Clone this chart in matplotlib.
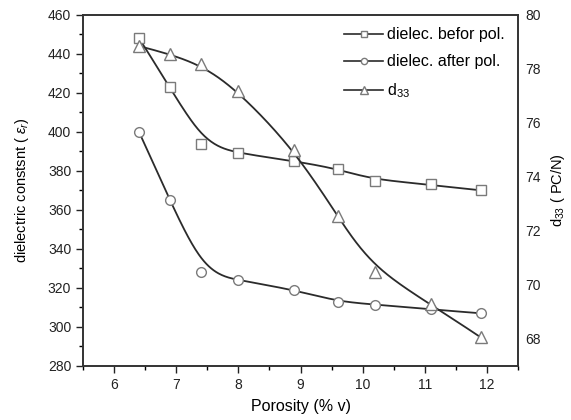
import numpy as np
import matplotlib
matplotlib.use("Agg")
import matplotlib.pyplot as plt
from matplotlib.lines import Line2D
from matplotlib.ticker import MultipleLocator

plt.rcParams["font.family"] = ["Liberation Sans", "DejaVu Sans"]
plt.rcParams["mathtext.fontset"] = "custom"
plt.rcParams["mathtext.rm"] = "Liberation Sans"
plt.rcParams["mathtext.it"] = "Liberation Sans:italic"

porosity = [6.4, 6.9, 7.4, 8.0, 8.9, 9.6, 10.2, 11.1, 11.9]
eps_before = [448, 423, 394, 389, 385, 381, 375, 373, 370]
eps_after = [400, 365, 328, 324, 319, 313, 311.5, 309, 307]
d33 = [78.84, 78.54, 78.16, 77.17, 75.0, 72.54, 70.47, 69.29, 68.06]


def bspline(xs, ys, npts=300, k=3):
    # clamped cubic B-spline using the data points as control points
    P = np.column_stack([xs, ys]).astype(float)
    n = len(P)
    inner = np.arange(1, n - k)
    knots = np.concatenate([np.zeros(k + 1), inner, np.full(k + 1, n - k)]).astype(float)
    t = np.linspace(0, n - k, npts)
    t[-1] -= 1e-9
    # Cox-de Boor
    N = np.zeros((npts, len(knots) - 1))
    for i in range(len(knots) - 1):
        N[:, i] = (knots[i] <= t) & (t < knots[i + 1])
    for d in range(1, k + 1):
        Nn = np.zeros((npts, len(knots) - 1 - d))
        for i in range(len(knots) - 1 - d):
            a = knots[i + d] - knots[i]
            b = knots[i + d + 1] - knots[i + 1]
            left = (t - knots[i]) / a * N[:, i] if a > 0 else 0
            right = (knots[i + d + 1] - t) / b * N[:, i + 1] if b > 0 else 0
            Nn[:, i] = left + right
        N = Nn
    C = N @ P
    return C[:, 0], C[:, 1]


line_c = "#2b2b2b"
mark_c = "#7a7a7a"

fig = plt.figure(figsize=(5.71, 4.2), dpi=100)
ax = fig.add_axes([0.1454, 0.1286, 0.7618, 0.8364])
ax2 = ax.twinx()

for ys, m in [(eps_before, "s"), (eps_after, "o")]:
    cx, cy = bspline(porosity, ys)
    ax.plot(cx, cy, color=line_c, lw=1.3, zorder=2)
    ax.plot(porosity, ys, ls="none", marker=m, ms=7, mfc="white", mec=mark_c, mew=1.0, zorder=3)

cx, cy = bspline(porosity, d33)
ax2.plot(cx, cy, color=line_c, lw=1.3, zorder=2)
ax2.plot(porosity, d33, ls="none", marker="^", ms=8.5, mfc="white", mec=mark_c, mew=1.0, zorder=3)

ax.set_xlim(5.5, 12.5)
ax.set_ylim(280, 460)
ax2.set_ylim(67, 80)

ax.xaxis.set_major_locator(MultipleLocator(1))
ax.xaxis.set_minor_locator(MultipleLocator(0.5))
ax.yaxis.set_major_locator(MultipleLocator(20))
ax.yaxis.set_minor_locator(MultipleLocator(10))
ax.tick_params(axis="both", which="major", direction="out", length=5, width=1, labelsize=10, colors="#222222")
ax.tick_params(axis="both", which="minor", direction="out", length=3, width=1)
ax.tick_params(top=False, right=False)

ax2.yaxis.set_major_locator(MultipleLocator(2))
ax2.tick_params(axis="y", which="both", length=0, pad=5, labelsize=10, colors="#222222")

for sp in ax.spines.values():
    sp.set_linewidth(1.2)
    sp.set_color("#333333")
for sp in ax2.spines.values():
    sp.set_linewidth(1.2)
    sp.set_color("#333333")

ax.set_xlabel("Porosity (% v)", fontsize=11.5, labelpad=5)
ax.set_ylabel(r"dielectric constsnt ( $\varepsilon_r$)", fontsize=10.5, labelpad=12)
ax2.set_ylabel(r"d$_{33}$ ( PC/N)", fontsize=10.5, labelpad=6)

handles = [
    Line2D([], [], color=line_c, lw=1.2, marker="s", ms=4.5, mfc="white", mec=mark_c),
    Line2D([], [], color=line_c, lw=1.2, marker="o", ms=4.5, mfc="white", mec=mark_c),
    Line2D([], [], color=line_c, lw=1.2, marker="^", ms=5.5, mfc="white", mec=mark_c),
]
labels = ["dielec. befor pol.", "dielec. after pol.", r"d$_{33}$"]
leg = ax2.legend(handles, labels, loc="upper right", frameon=False, fontsize=11.5,
                 handlelength=2.4, handletextpad=0.3, borderaxespad=0.4, labelspacing=0.75,
                 alignment="left")

fig.savefig("out.png", dpi=100)
